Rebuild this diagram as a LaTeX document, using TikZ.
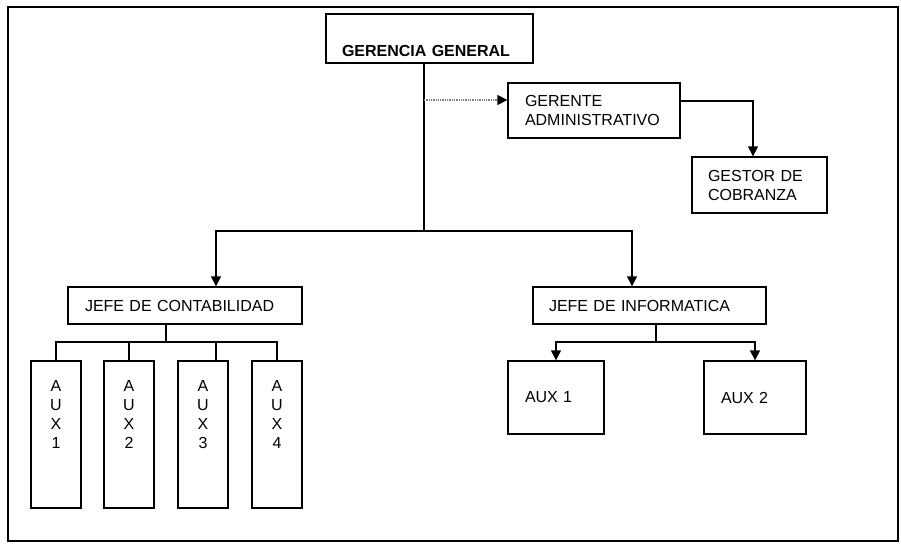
\documentclass[tikz,border=0pt]{standalone}
\usepackage{fontspec}
\setmainfont{Liberation Sans}
\usetikzlibrary{arrows.meta}

\tikzset{
    orgbox/.style={draw=black, line width=1.3pt, align=left, font=\fontsize{16}{19}\selectfont},
    auxcol/.style={orgbox, align=center, inner xsep=0pt, text width=50pt, inner ysep=19pt, text height=11.5pt, text depth=97.5pt},
    orgline/.style={draw=black, line width=1.3pt},
    orgarrow/.style={orgline, -{Triangle[length=10pt,width=10pt,black]}}
}

\begin{document}
\begin{tikzpicture}[x=1pt, y=-1pt]
    \useasboundingbox (0,0) rectangle (901,543);
    \draw[line width=1.5pt] (8,7) rectangle (898,541);

    %   Top of the chart
    \node[orgbox, font=\fontsize{16}{19}\selectfont\bfseries, text width=175pt, inner xsep=16pt, minimum height=49pt, text height=37pt] (gg) at (429.5,38.5) {GERENCIA GENERAL};
    \node[orgbox, text width=138pt, inner xsep=17pt, minimum height=55pt] (ger) at (594,110.5) {GERENTE\\ADMINISTRATIVO};
    \node[orgbox, text width=103pt, inner xsep=16pt, minimum height=56pt] (gest) at (759.5,185) {GESTOR DE\\COBRANZA};

    %   Two departments
    \node[orgbox, text width=200pt, inner xsep=17pt, minimum height=37pt] (jc) at (185,305.5) {JEFE DE CONTABILIDAD};
    \node[orgbox, text width=201pt, inner xsep=16pt, minimum height=37pt] (jinf) at (649.5,305.5) {JEFE DE INFORMATICA};

    %   Assistants
    \foreach \i/\x in {1/56, 2/129, 3/203, 4/277}
        \node[auxcol] (a\i) at (\x,434.5) {A\\U\\X\\\i};
    \node[orgbox, text width=62pt, inner xsep=17pt, minimum height=73pt] (ai1) at (556,397.5) {AUX 1};
    \node[orgbox, text width=68pt, inner xsep=17pt, minimum height=73pt] (ai2) at (755,397.5) {AUX 2};

    %   Connectors
    \coordinate (split) at (424,231);
    \coordinate (tap) at (424,100);
    \draw[orgline] (gg.south -| split) -- (split);
    \draw[orgarrow] (split) -| ([xshift=31pt]jc.north);
    \draw[orgarrow] (split) -| ([xshift=-17.5pt]jinf.north);
    \draw[orgarrow, gray, densely dotted] (tap) -- (tap -| ger.west);
    \draw[orgarrow] ([yshift=9.5pt]ger.east) -| ([xshift=-6.5pt]gest.north);

    \coordinate (cbus) at (166,342);
    \draw[orgline] (jc.south -| cbus) -- (cbus);
    \draw[orgline] (a1.north) |- (a4.north |- cbus) -- (a4.north);
    \draw[orgline] (a2.north) -- (a2.north |- cbus);
    \draw[orgline] ([xshift=13pt]a3.north) -- ([xshift=13pt]a3.north |- cbus);

    \coordinate (ibus) at (656,342);
    \draw[orgline] (jinf.south -| ibus) -- (ibus);
    \draw[orgarrow] (ibus) -| (ai1.north);
    \draw[orgarrow] (ibus) -| (ai2.north);
\end{tikzpicture}
\end{document}
